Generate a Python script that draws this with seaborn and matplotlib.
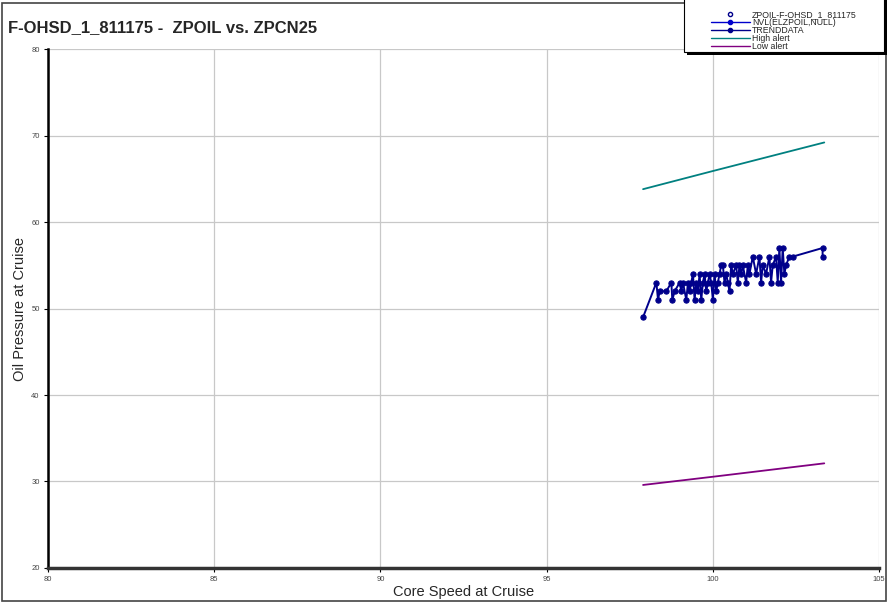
import numpy as np
import pandas as pd
import matplotlib
matplotlib.use("Agg")
import matplotlib.pyplot as plt
import seaborn as sns
from matplotlib.lines import Line2D
from matplotlib.patches import Rectangle

# core speed / oil pressure readings
core_speed = [97.9, 98.3, 98.35, 98.4, 98.6, 98.75, 98.78, 98.85, 99.0, 99.05,
              99.1, 99.2, 99.25, 99.3, 99.35, 99.4, 99.45, 99.5, 99.55, 99.6,
              99.65, 99.7, 99.75, 99.8, 99.85, 99.9, 99.95, 100.0, 100.05, 100.1,
              100.15, 100.2, 100.25, 100.3, 100.35, 100.4, 100.45, 100.5, 100.55, 100.6,
              100.7, 100.75, 100.8, 100.85, 100.9, 101.0, 101.05, 101.1, 101.2, 101.3,
              101.4, 101.45, 101.5, 101.6, 101.7, 101.75, 101.8, 101.9, 101.95, 102.0,
              102.05, 102.1, 102.15, 102.2, 102.3, 102.4, 103.3, 103.3]
oil_pressure = [49, 53, 51, 52, 52, 53, 51, 52, 53, 52,
                53, 51, 53, 52, 53, 54, 51, 53, 52, 54,
                51, 53, 54, 52, 53, 54, 53, 51, 54, 52,
                53, 54, 55, 55, 53, 54, 53, 52, 55, 54,
                55, 53, 55, 54, 55, 53, 55, 54, 56, 54,
                56, 53, 55, 54, 56, 53, 55, 56, 53, 57,
                53, 57, 54, 55, 56, 56, 57, 56]

alert_x = [97.9, 100.0, 103.35]
high_alert = [63.8, 65.9, 69.2]
low_alert = [29.6, 30.55, 32.1]

data = pd.DataFrame({"x": core_speed, "y": oil_pressure})
high = pd.DataFrame({"x": alert_x, "y": high_alert})
low = pd.DataFrame({"x": alert_x, "y": low_alert})

sns.set_style("whitegrid")
plt.rcParams["font.family"] = ["Liberation Sans", "DejaVu Sans"]

W, H = 888, 602
fig = plt.figure(figsize=(8.88, 6.02), dpi=100)
ax = fig.add_axes([0.054, 0.0565, 0.936, 0.862])

data_col = "#00008b"
sns.lineplot(data=data, x="x", y="y", ax=ax, sort=False, estimator=None,
             color=data_col, lw=1.4, marker="o", markersize=3.8,
             markeredgecolor=data_col)
sns.lineplot(data=high, x="x", y="y", ax=ax, estimator=None, color="#008080", lw=1.3)
sns.lineplot(data=low, x="x", y="y", ax=ax, estimator=None, color="#800080", lw=1.3)

ax.set_xlim(80, 105)
ax.set_ylim(20, 80)
ax.set_xticks([80, 85, 90, 95, 100, 105])
ax.set_yticks([20, 30, 40, 50, 60, 70, 80])
ax.grid(True, color="#c8c8c8", lw=0.9)
ax.tick_params(axis="both", labelsize=5.5, labelcolor="#444444", length=3,
               color="black", left=True, bottom=True, pad=3)
for s in ["top", "right"]:
    ax.spines[s].set_visible(False)
ax.spines["left"].set_color("black")
ax.spines["left"].set_linewidth(1.8)
ax.spines["bottom"].set_color("#333333")
ax.spines["bottom"].set_linewidth(2.5)

ax.set_xlabel("Core Speed at Cruise", fontsize=10.5, labelpad=1)
ax.set_ylabel("Oil Pressure at Cruise", fontsize=10.5)
ax.yaxis.set_label_coords(-0.025, 0.5)

fig.text(0.009, 0.955, "F-OHSD_1_811175 -  ZPOIL vs. ZPCN25", fontsize=12,
         fontweight="bold", ha="left", va="center")

# legend box with drop shadow
fig.patches.append(Rectangle((687 / W, 1 - 55 / H), 200 / W, 60 / H,
                             transform=fig.transFigure, facecolor="black",
                             edgecolor="none", zorder=5))
fig.patches.append(Rectangle((684 / W, 1 - 52 / H), 200 / W, 60 / H,
                             transform=fig.transFigure, facecolor="white",
                             edgecolor="black", lw=0.8, zorder=6))

handles = [
    Line2D([], [], ls="none", marker="o", mfc="white", mec=data_col, ms=3),
    Line2D([], [], color="#0000cc", lw=1, marker="o", ms=3),
    Line2D([], [], color=data_col, lw=1, marker="o", ms=3),
    Line2D([], [], color="#008080", lw=1),
    Line2D([], [], color="#800080", lw=1),
]
labels = ["ZPOIL-F-OHSD_1_811175", "NVL(ELZPOIL,NULL)", "TRENDDATA",
          "High alert", "Low alert"]
leg = fig.legend(handles, labels, loc="upper left",
                 bbox_to_anchor=(711 / W, 1 - 10 / H),
                 fontsize=6.3, frameon=False, borderpad=0, labelspacing=-0.12,
                 handlelength=4.4, handletextpad=0.3, borderaxespad=0)
leg.set_zorder(7)

fig.patches.append(Rectangle((0.002, 0.002), 0.996, 0.993, transform=fig.transFigure,
                             fill=False, edgecolor="#444444", lw=1.2))

fig.savefig("out.png", dpi=100)
